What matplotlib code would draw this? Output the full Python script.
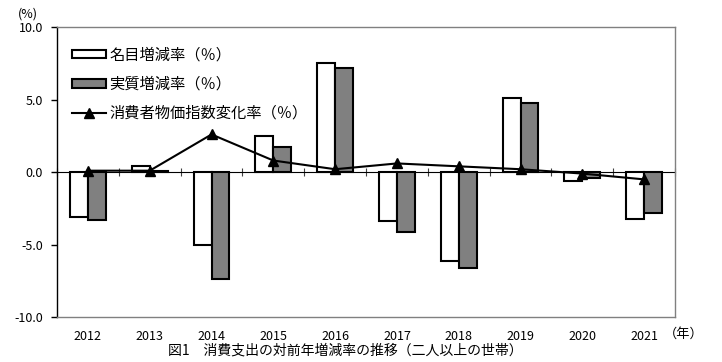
import matplotlib
matplotlib.use("Agg")
import matplotlib.pyplot as plt
import numpy as np

plt.rcParams['font.family'] = ['Noto Sans CJK JP', 'DejaVu Sans']

years = ["2012", "2013", "2014", "2015", "2016", "2017", "2018", "2019", "2020", "2021"]
nominal = [-3.1, 0.4, -5.0, 2.5, 7.5, -3.4, -6.1, 5.1, -0.6, -3.2]
real = [-3.3, 0.1, -7.4, 1.7, 7.2, -4.1, -6.6, 4.8, -0.4, -2.8]
cpi = [0.1, 0.1, 2.6, 0.8, 0.2, 0.6, 0.4, 0.2, -0.1, -0.5]
label_nominal = "名目増減率（％）"
label_real = "実質増減率（％）"
label_cpi = "消費者物価指数変化率（％）"
caption = "図1　消費支出の対前年増減率の推移（二人以上の世帯）"

fig = plt.figure(figsize=(7.22, 3.62), dpi=100)
ax = fig.add_axes([0.079, 0.124, 0.856, 0.801])

x = np.arange(len(years))
w = 0.29
b1 = ax.bar(x - w / 2, nominal, w, facecolor="white", edgecolor="black", linewidth=1.5, zorder=2)
b2 = ax.bar(x + w / 2, real, w, facecolor="#808080", edgecolor="black", linewidth=1.5, zorder=2)
ln, = ax.plot(x, cpi, color="black", linewidth=1.5, marker="^", markersize=7, zorder=3)

ax.set_xlim(-0.5, len(years) - 0.5)
ax.set_ylim(-10, 10)
ax.set_yticks([-10, -5, 0, 5, 10])
ax.set_yticklabels(["-10.0", "-5.0", "0.0", "5.0", "10.0"])
ax.tick_params(axis="y", direction="out", length=4, width=1, pad=6, labelsize=9)
ax.set_xticks(x)
ax.set_xticklabels(years)
ax.tick_params(axis="x", length=0, pad=9, labelsize=9)

for s in ["top", "right", "bottom"]:
    ax.spines[s].set_color("#808080")
    ax.spines[s].set_linewidth(1)
ax.spines["left"].set_color("black")
ax.spines["left"].set_linewidth(1)

# zero line with category-boundary ticks
sec = ax.secondary_xaxis(0.5)
sec.set_xticks(np.arange(len(years) + 1) - 0.5)
sec.set_xticklabels([])
sec.tick_params(axis="x", direction="inout", length=6, width=0.8, color="#404040")
sec.spines["bottom"].set_color("black")
sec.spines["bottom"].set_linewidth(1)

leg = ax.legend([b1, b2, ln], [label_nominal, label_real, label_cpi],
                loc="upper left", bbox_to_anchor=(0.01, 0.965), frameon=False,
                fontsize=11, handlelength=2.2, handleheight=0.5,
                handletextpad=0.2, labelspacing=0.8, borderaxespad=0.2)

fig.text(18 / 722, 1 - 14 / 362, "(%)", fontsize=9, ha="left", va="center")
fig.text(664 / 722, 1 - 334 / 362, "（年）", fontsize=9.5, ha="left", va="center")
fig.text(345 / 722, 1 - 350 / 362, caption, fontsize=10, ha="center", va="center")

fig.savefig("out.png", dpi=100)
